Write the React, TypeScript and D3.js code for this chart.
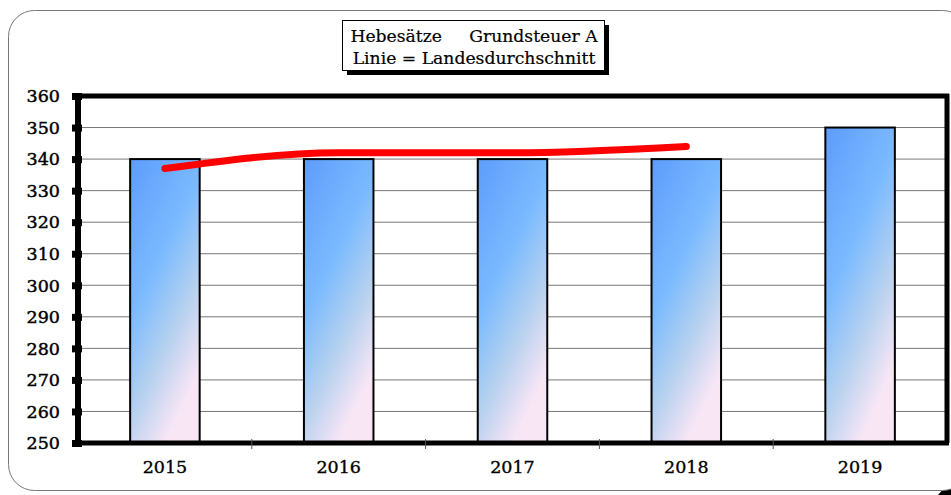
import React from "react";
import * as d3 from "d3";

const years = ["2015", "2016", "2017", "2018", "2019"];
const rates = [340, 340, 340, 340, 350];
const lineYears = ["2015", "2016", "2017", "2018"];
const landesAvg = [337, 342, 342, 344];
const yTicks = [250, 260, 270, 280, 290, 300, 310, 320, 330, 340, 350, 360];
const titleLines = ["Hebesätze     Grundsteuer A", "Linie = Landesdurchschnitt"];

const W = 951, H = 495;
const plot = { left: 78, top: 96, right: 947, bottom: 443 };

export default function App() {
  const x = d3.scaleBand().domain(years).range([plot.left, plot.right]).paddingInner(0.6).paddingOuter(0.3);
  const xb = d3.scaleBand().domain(years).range([plot.left, plot.right]);
  const y = d3.scaleLinear().domain([250, 360]).range([plot.bottom, plot.top]);
  const line = d3.line<number>()
    .x((_, i) => (xb(lineYears[i]) as number) + xb.bandwidth() / 2)
    .y((d) => y(d))
    .curve(d3.curveMonotoneX);
  const font = "'DejaVu Serif', serif";
  return (
    <svg width={W} height={H} style={{ position: "absolute", left: 0, top: 0 }}>
      <defs>
        <linearGradient id="barGrad" x1="0" y1="0" x2="0.5" y2="1">
          <stop offset="0" stopColor="#5d9cfb" />
          <stop offset="0.45" stopColor="#7bbaff" />
          <stop offset="0.75" stopColor="#bad2ee" />
          <stop offset="1" stopColor="#f8e6f5" />
        </linearGradient>
      </defs>
      <rect x={0} y={0} width={W} height={H} fill="#fff" />
      <path d="M945,487 L951,481 L951,495 L938,495 Z" fill="#000" />
      <rect x={8.5} y={10.5} width={960} height={480} rx={26} ry={26} fill="#fff" stroke="#777" strokeWidth={1} />
      {yTicks.map((t) => (
        <line key={t} x1={plot.left} x2={plot.right} y1={y(t)} y2={y(t)} stroke="#777" strokeWidth={1} />
      ))}
      {years.map((yr, i) => (
        <rect key={yr} x={x(yr)} y={y(rates[i])} width={x.bandwidth()} height={plot.bottom - y(rates[i])}
          fill="url(#barGrad)" stroke="#000" strokeWidth={2} />
      ))}
      <line x1={plot.left - 3} x2={plot.right + 2} y1={plot.top} y2={plot.top} stroke="#000" strokeWidth={5} />
      <line x1={plot.right} x2={plot.right} y1={plot.top - 2} y2={plot.bottom} stroke="#000" strokeWidth={5} />
      <line x1={plot.left} x2={plot.right + 2} y1={plot.bottom} y2={plot.bottom} stroke="#000" strokeWidth={5} />
      <line x1={plot.left} x2={plot.left} y1={plot.top - 2} y2={plot.bottom + 2} stroke="#000" strokeWidth={6} />
      {yTicks.map((t) => (
        <g key={"t" + t}>
          <rect x={plot.left - 6} y={y(t) - 3} width={10} height={7} fill="#000" />
          <text x={60} y={y(t)} dy="0.36em" textAnchor="end" fontFamily={font} fontSize={17.5} fill="#000" stroke="#000" strokeWidth={0.45}>{t}</text>
        </g>
      ))}
      {years.map((yr, i) => (
        <g key={"x" + yr}>
          {i > 0 && <line x1={xb(yr)} x2={xb(yr)} y1={plot.bottom - 4} y2={plot.bottom + 6} stroke="#555" strokeWidth={1} />}
          <text x={(xb(yr) as number) + xb.bandwidth() / 2} y={467} dy="0.36em" textAnchor="middle" fontFamily={font} fontSize={17.5} fill="#000" stroke="#000" strokeWidth={0.35}>{yr}</text>
        </g>
      ))}
      <path d={line(landesAvg) as string} fill="none" stroke="#ff0000" strokeWidth={7} strokeLinecap="round" />
      <rect x={347} y={25} width={262} height={50} fill="#000" />
      <rect x={342.5} y={20.5} width={262} height={50} fill="#fff" stroke="#000" strokeWidth={1} />
      {titleLines.map((tl, i) => (
        <text key={i} x={474} y={36 + i * 22} dy="0.36em" textAnchor="middle" fontFamily={font} fontSize={17.2} fill="#000" stroke="#000" strokeWidth={0.2} style={{ whiteSpace: "pre" }}>{tl}</text>
      ))}
    </svg>
  );
}
